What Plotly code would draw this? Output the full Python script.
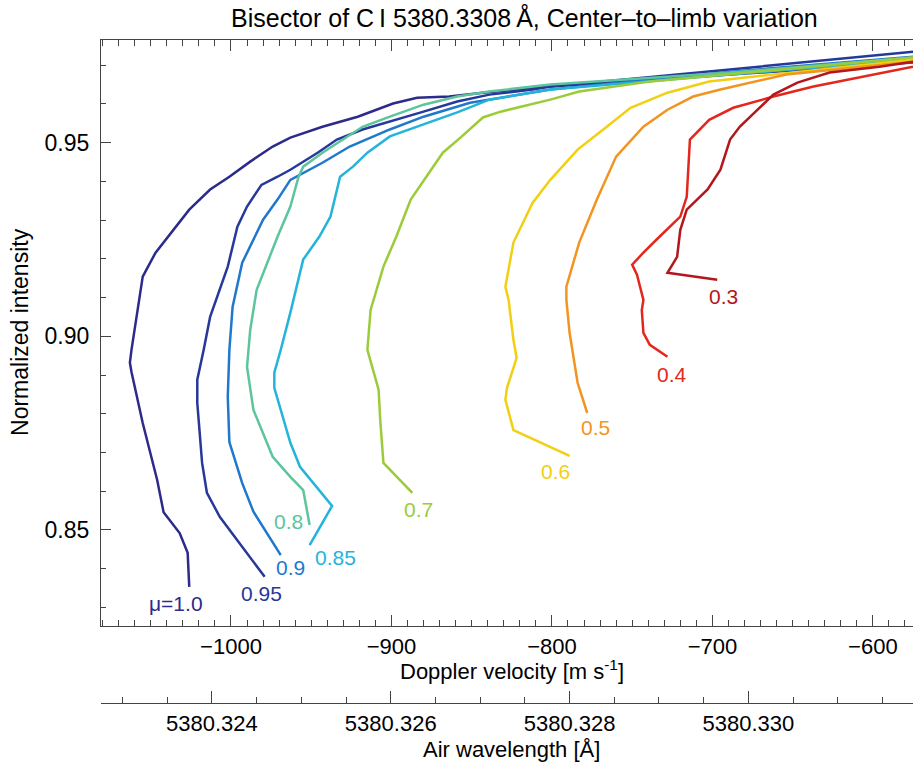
import plotly.graph_objects as go

# ---------------- data (Doppler velocity [m/s], normalized intensity) ----------------
mu_labels = ["μ=1.0", "0.95", "0.9", "0.85", "0.8", "0.7", "0.6", "0.5", "0.4", "0.3"]

v_100 = [-1026, -1027, -1032, -1042, -1046, -1055, -1062, -1063, -1062, -1055, -1047, -1037, -1026,
         -1013, -1001, -988, -974, -963, -943, -921, -899, -884, -864, -843, -801, -689, -575]
i_100 = [0.8353, 0.8441, 0.8492, 0.8546, 0.8629, 0.8776, 0.8908, 0.8932, 0.8965, 0.9154, 0.9216, 0.9270,
         0.9327, 0.9379, 0.9412, 0.9451, 0.9490, 0.9513, 0.9541, 0.9567, 0.9601, 0.9616, 0.9619, 0.9629,
         0.9645, 0.9676, 0.9707]

v_095 = [-979, -990, -999, -1007, -1015, -1018, -1021, -1021, -1017, -1013, -1002, -996, -990, -981,
         -971, -963, -946, -934, -918, -901, -880, -859, -839, -812, -801, -689, -575]
i_095 = [0.8379, 0.8441, 0.8492, 0.8534, 0.8596, 0.8673, 0.8828, 0.8888, 0.8965, 0.9050, 0.9180, 0.9283,
         0.9335, 0.9391, 0.9412, 0.9430, 0.9474, 0.9508, 0.9534, 0.9554, 0.9580, 0.9606, 0.9624, 0.9637,
         0.9645, 0.9689, 0.9735]

v_090 = [-969, -976, -986, -993, -1001, -1002, -1001, -999, -993, -980, -971, -963, -955, -943, -926,
         -901, -880, -851, -801, -689, -575]
i_090 = [0.8435, 0.8482, 0.8547, 0.8621, 0.8727, 0.8844, 0.8965, 0.9076, 0.9190, 0.9301, 0.9353, 0.9404,
         0.9422, 0.9448, 0.9490, 0.9534, 0.9567, 0.9603, 0.9637, 0.9683, 0.9722]

v_085 = [-951, -937, -957, -963, -973, -973, -969, -966, -963, -955, -945, -938, -932, -924, -915, -901,
         -884, -859, -839, -801, -689, -575]
i_085 = [0.8461, 0.8562, 0.8663, 0.8725, 0.8867, 0.8906, 0.8965, 0.9017, 0.9061, 0.9198, 0.9257, 0.9309,
         0.9412, 0.9438, 0.9474, 0.9516, 0.9541, 0.9578, 0.9611, 0.9637, 0.9676, 0.9714]

v_080 = [-951, -955, -963, -974, -986, -990, -988, -984, -971, -963, -958, -955, -943, -930, -918, -901,
         -880, -859, -839, -801, -689, -575]
i_080 = [0.8513, 0.8603, 0.8637, 0.8689, 0.8810, 0.8921, 0.9017, 0.9120, 0.9257, 0.9335, 0.9410, 0.9438,
         0.9474, 0.9508, 0.9541, 0.9567, 0.9598, 0.9619, 0.9632, 0.9650, 0.9681, 0.9720]

v_070 = [-887, -905, -907, -908, -915, -913, -905, -897, -888, -878, -868, -857, -843, -832, -801, -783,
         -739, -575]
i_070 = [0.8596, 0.8673, 0.8784, 0.8862, 0.8965, 0.9068, 0.9180, 0.9257, 0.9353, 0.9412, 0.9474, 0.9513,
         0.9565, 0.9580, 0.9611, 0.9632, 0.9658, 0.9720]

v_060 = [-789, -824, -829, -828, -822, -824, -827, -829, -824, -812, -801, -784, -768, -751, -728, -702,
         -575]
i_060 = [0.8691, 0.8758, 0.8836, 0.8867, 0.8944, 0.8991, 0.9094, 0.9128, 0.9242, 0.9345, 0.9404, 0.9482,
         0.9534, 0.9590, 0.9629, 0.9658, 0.9714]

v_050 = [-778, -784, -789, -791, -791, -783, -772, -760, -743, -728, -712, -695, -654, -575]
i_050 = [0.8802, 0.8880, 0.9009, 0.9094, 0.9128, 0.9242, 0.9353, 0.9464, 0.9541, 0.9585, 0.9619, 0.9637,
         0.9676, 0.9709]

v_040 = [-728, -739, -743, -744, -743, -747, -750, -743, -733, -720, -716, -714, -702, -687, -662, -637,
         -575]
i_040 = [0.8947, 0.8978, 0.9009, 0.9068, 0.9094, 0.9159, 0.9185, 0.9216, 0.9257, 0.9309, 0.9360, 0.9508,
         0.9559, 0.9590, 0.9619, 0.9645, 0.9696]

v_030 = [-697, -728, -722, -720, -716, -703, -695, -689, -683, -672, -662, -647, -627, -596, -575]
i_030 = [0.9146, 0.9164, 0.9205, 0.9275, 0.9327, 0.9379, 0.9430, 0.9508, 0.9541, 0.9585, 0.9624, 0.9655,
         0.9681, 0.9696, 0.9709]

# label anchor points (data coords)
label_v = [-1034, -981, -963, -935, -964, -883, -798, -773, -725, -693]
label_i = [0.8309, 0.8337, 0.8402, 0.8430, 0.8521, 0.8552, 0.8650, 0.8764, 0.8901, 0.9102]

velocity_ticks = [-1000, -900, -800, -700, -600]
wavelength_ticks = [5380.324, 5380.326, 5380.328, 5380.330]

# ---------------- styles ----------------
colors = ["#2c2a8a", "#26389a", "#1f78cc", "#24b4da", "#5cc59c", "#9ccb3a", "#f2cf12", "#f29420",
          "#e4271d", "#b3171d"]
FONT = "Liberation Sans, Arial, sans-serif"
AX = "#444444"

series = [(v_100, i_100), (v_095, i_095), (v_090, i_090), (v_085, i_085), (v_080, i_080),
          (v_070, i_070), (v_060, i_060), (v_050, i_050), (v_040, i_040), (v_030, i_030)]

# wavelength <-> velocity (velocity corrected for gravitational redshift)
LAMBDA0 = 5380.3308
GRS = 633.0
C = 299792458.0
XR = [-1081, -575]
lam = lambda v: LAMBDA0 * (1 + (v + GRS) / C)

fig = go.Figure()
for (vx, iy), col in zip(series, colors):
    fig.add_trace(go.Scatter(x=vx, y=iy, mode="lines", line=dict(color=col, width=2.5),
                             showlegend=False, hoverinfo="skip"))

# invisible trace carrying the wavelength axis
fig.add_trace(go.Scatter(x=[lam(XR[0]), lam(XR[1])], y=[None, None], xaxis="x2", yaxis="y",
                         mode="lines", showlegend=False, hoverinfo="skip"))

ann = []
for txt, lv, li, col in zip(mu_labels, label_v, label_i, colors):
    ann.append(dict(x=lv, y=li, xref="x", yref="y", text=txt, showarrow=False,
                    xanchor="center", yanchor="middle",
                    font=dict(size=21, color=col, family=FONT)))

common = dict(xref="paper", yref="paper", showarrow=False, xanchor="center", yanchor="middle")
ann += [
    dict(x=0.521, y=1.0332, text="Bisector of C\u2009I 5380.3308\u2009Å, Center\u2013to\u2013limb variation",
         font=dict(size=25, color="black", family=FONT), **common),
    dict(x=0.506, y=0.0505, text="Doppler velocity [m s<sup>-1</sup>]",
         font=dict(size=22, color="black", family=FONT), **common),
    dict(x=0.506, y=-0.070, text="Air wavelength [Å]",
         font=dict(size=22, color="black", family=FONT), **common),
    dict(x=-0.0998, y=0.5596, textangle=-90, text="Normalized intensity",
         font=dict(size=23, color="black", family=FONT), **common),
]

fig.update_layout(
    width=913, height=763, autosize=False,
    margin=dict(l=101, r=0, t=40, b=60),
    paper_bgcolor="white", plot_bgcolor="white",
    font=dict(family=FONT, size=22, color="black"),
    annotations=ann,
    xaxis=dict(range=XR, tickvals=velocity_ticks, ticks="inside", ticklen=11, tickwidth=1.2,
               tickcolor=AX, showline=True, linecolor=AX, linewidth=1.3, mirror="ticks",
               showgrid=False, zeroline=False, anchor="y",
               tickfont=dict(size=22, family=FONT, color="black"),
               minor=dict(dtick=10, tick0=0, ticks="inside", ticklen=6, tickwidth=1, tickcolor=AX,
                          showgrid=False)),
    yaxis=dict(range=[0.8252, 0.9765], domain=[0.1161, 1], tick0=0.85, dtick=0.05, tickformat=".2f",
               ticks="inside", ticklen=10, tickwidth=1.2, tickcolor=AX, showline=True, linecolor=AX,
               linewidth=1.3, showgrid=False, zeroline=False, ticklabelstandoff=6,
               tickfont=dict(size=23, family=FONT, color="black"),
               minor=dict(dtick=0.01, tick0=0.85, ticks="inside", ticklen=5, tickwidth=1, tickcolor=AX,
                          showgrid=False)),
    xaxis2=dict(range=[lam(XR[0]), lam(XR[1])], overlaying="x", anchor="free", position=0, side="bottom",
                tickvals=wavelength_ticks, tickformat=".3f", ticks="inside", ticklen=12, tickwidth=1.2,
                tickcolor=AX, showline=True, linecolor=AX, linewidth=1.3, showgrid=False, zeroline=False,
                tickfont=dict(size=22, family=FONT, color="black"),
                minor=dict(dtick=0.0005, tick0=5380.324, ticks="inside", ticklen=6, tickwidth=1,
                           tickcolor=AX, showgrid=False)),
)

fig.write_html("out.html")
